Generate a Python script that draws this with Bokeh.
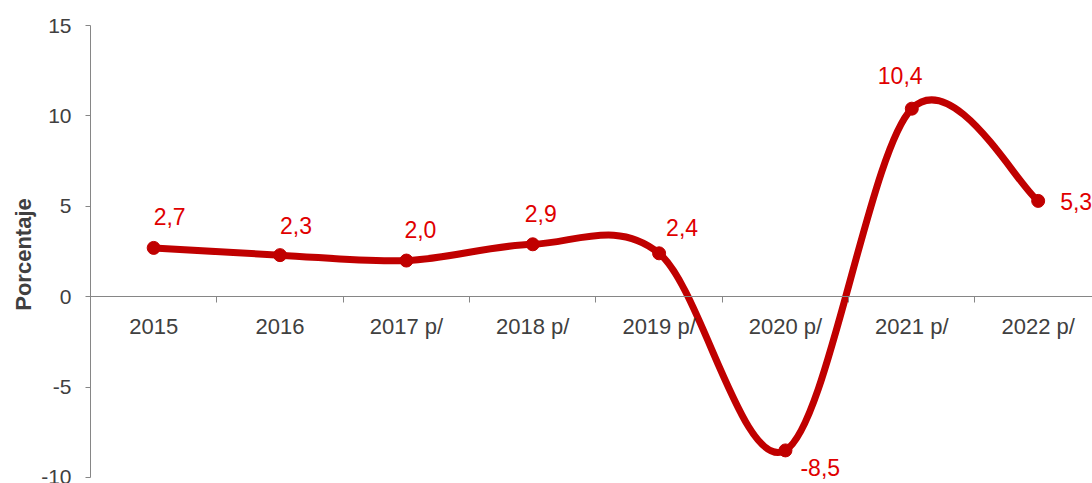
import numpy as np
from bokeh.plotting import figure
from bokeh.models import ColumnDataSource, Range1d, LinearAxis, FixedTicker
from bokeh.core.properties import value
from bokeh.embed import file_html
from bokeh.resources import INLINE

# ---- data ----
categories = ["2015", "2016", "2017 p/", "2018 p/", "2019 p/", "2020 p/", "2021 p/", "2022 p/"]
growth = [2.7, 2.3, 2.0, 2.9, 2.4, -8.5, 10.4, 5.3]
y_ticks = [-10, -5, 0, 5, 10, 15]
y_tick_labels = ["-10", "-5", "0", "5", "10", "15"]
y_title = "Porcentaje"

# ---- style: per-label pixel offsets (screen px, +y is down) ----
label_dx = [0, 0, -2, -8, 7, 15, -34, 22]
label_dy = [-31, -30, -31, -31, -26, 17, -33, 1]

FONT = "Liberation Sans"
LINE_RED = "#C00000"
LABEL_RED = "#E00000"
AXIS_GREY = "#868686"
TEXT_GREY = "#404040"

n = len(growth)
xs = np.arange(n, dtype=float)
ys = np.array(growth, dtype=float)

# smoothed line (Catmull-Rom style Bezier through the data points)
def idx(i):
    return min(max(i, 0), n - 1)

seg = dict(x0=[], y0=[], x1=[], y1=[], cx0=[], cy0=[], cx1=[], cy1=[])
for i in range(n - 1):
    a, b, c, d = idx(i - 1), i, i + 1, idx(i + 2)
    seg["x0"].append(xs[b]); seg["y0"].append(ys[b])
    seg["x1"].append(xs[c]); seg["y1"].append(ys[c])
    seg["cx0"].append(xs[b] + (xs[c] - xs[a]) / 6.0)
    seg["cy0"].append(ys[b] + (ys[c] - ys[a]) / 6.0)
    seg["cx1"].append(xs[c] - (xs[d] - xs[b]) / 6.0)
    seg["cy1"].append(ys[c] - (ys[d] - ys[b]) / 6.0)

pts = ColumnDataSource(dict(
    x=xs, y=ys,
    lab=[f"{v:.1f}".replace(".", ",") for v in growth],
    dx=label_dx, dy=label_dy,
))

p = figure(width=1092, height=483, output_backend="svg", toolbar_location=None,
           x_range=Range1d(-0.5, 7.43), y_range=Range1d(-10.33, 15),
           x_axis_location=None, min_border_left=90, min_border_right=0,
           min_border_top=25, min_border_bottom=0)
p.outline_line_color = None
p.xgrid.visible = False
p.ygrid.visible = False
p.background_fill_color = "white"
p.border_fill_color = "white"

# y axis
ya = p.yaxis[0]
ya.bounds = (y_ticks[0], y_ticks[-1])
ya.ticker = FixedTicker(ticks=y_ticks)
ya.major_label_overrides = {t: s for t, s in zip(y_ticks, y_tick_labels)}
ya.minor_tick_line_color = None
ya.major_tick_in = 0
ya.major_tick_out = 5
ya.axis_line_color = AXIS_GREY
ya.major_tick_line_color = AXIS_GREY
ya.major_label_text_font = FONT
ya.major_label_text_font_size = "21px"
ya.major_label_text_color = TEXT_GREY
ya.major_label_standoff = 14
ya.axis_label = y_title
ya.axis_label_text_font = FONT
ya.axis_label_text_font_size = "22px"
ya.axis_label_text_font_style = "bold"
ya.axis_label_text_color = TEXT_GREY
ya.axis_label_standoff = 2

# x axis line at zero with boundary ticks
xb = LinearAxis(fixed_location=0)
xb.ticker = FixedTicker(ticks=[i + 0.5 for i in range(n - 1)])
xb.major_label_text_font_size = "0px"
xb.major_label_text_color = None
xb.minor_tick_line_color = None
xb.major_tick_in = 0
xb.major_tick_out = 6
xb.axis_line_color = AXIS_GREY
xb.major_tick_line_color = AXIS_GREY
p.add_layout(xb, "below")

# category labels
xl = LinearAxis(fixed_location=0)
xl.ticker = FixedTicker(ticks=list(range(n)))
xl.major_label_overrides = {i: c for i, c in enumerate(categories)}
xl.axis_line_color = None
xl.major_tick_line_color = None
xl.minor_tick_line_color = None
xl.major_tick_in = 0
xl.major_tick_out = 0
xl.major_label_text_font = FONT
xl.major_label_text_font_size = "22px"
xl.major_label_text_color = TEXT_GREY
xl.major_label_standoff = 17
p.add_layout(xl, "below")

# smoothed line
p.bezier(x0="x0", y0="y0", x1="x1", y1="y1", cx0="cx0", cy0="cy0", cx1="cx1", cy1="cy1",
         source=ColumnDataSource(seg), line_color=LINE_RED, line_width=7, line_cap="round")
p.scatter("x", "y", source=pts, size=13, marker="circle", fill_color=LINE_RED, line_color=LINE_RED)

# data labels
p.text("x", "y", text="lab", source=pts, x_offset="dx", y_offset="dy",
       text_font=value(FONT), text_font_size="23px", text_color=LABEL_RED,
       text_align="left", text_baseline="alphabetic")

open("out.html", "w").write(file_html(p, INLINE))
